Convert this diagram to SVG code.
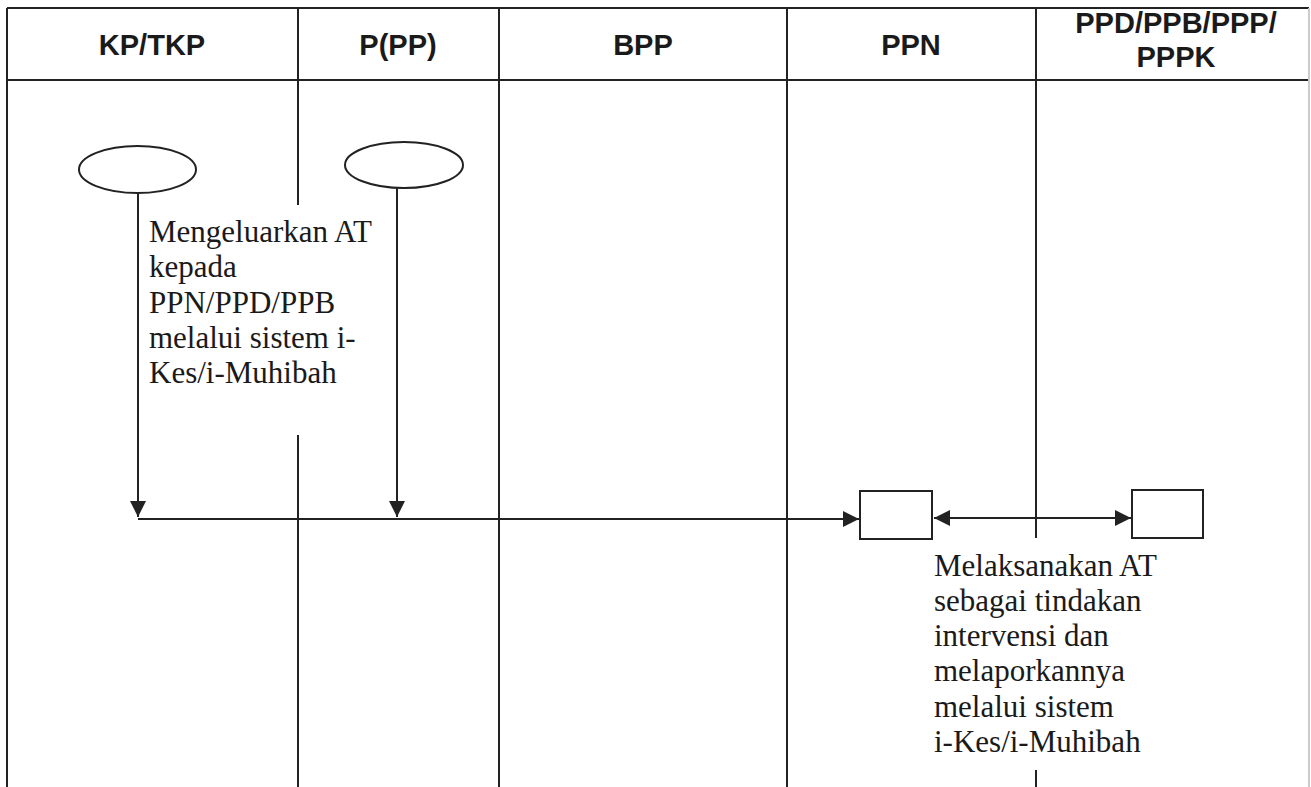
<svg xmlns="http://www.w3.org/2000/svg" width="1311" height="787" viewBox="0 0 1311 787">
<style>
.ln{stroke:#222;stroke-width:2;fill:none}
.sh{stroke:#222;stroke-width:2;fill:#fff}
.hd{font-family:"Liberation Sans",Arial,sans-serif;font-weight:bold;font-size:29px;fill:#1a1a1a;text-anchor:middle}
.tx{font-family:"Liberation Serif","Times New Roman",serif;font-size:31px;fill:#1a1a1a}
</style>
<defs>
<marker id="ah" viewBox="0 0 16 16" refX="16" refY="8" markerWidth="16" markerHeight="16" markerUnits="userSpaceOnUse" orient="auto-start-reverse">
<path d="M0,0 L16,8 L0,16 Z" fill="#222"/>
</marker>
</defs>
<rect width="1311" height="787" fill="#fff"/>
<g id="frame">
<line class="ln" x1="7" y1="8" x2="1309" y2="8"/>
<line class="ln" x1="7" y1="80" x2="1309" y2="80"/>
<line class="ln" x1="7" y1="8" x2="7" y2="787"/>
<line class="ln" x1="1309" y1="8" x2="1309" y2="787" style="stroke:#ccc"/>
<line class="ln" x1="298" y1="8" x2="298" y2="205"/>
<line class="ln" x1="298" y1="435" x2="298" y2="787"/>
<line class="ln" x1="499" y1="8" x2="499" y2="787"/>
<line class="ln" x1="787" y1="8" x2="787" y2="787"/>
<line class="ln" x1="1036" y1="8" x2="1036" y2="538"/>
<line class="ln" x1="1036" y1="770" x2="1036" y2="787"/>
</g>
<g id="headers">
<text class="hd" x="152" y="55">KP/TKP</text>
<text class="hd" x="398" y="55">P(PP)</text>
<text class="hd" x="643" y="55">BPP</text>
<text class="hd" x="911" y="55">PPN</text>
<text class="hd" x="1176" y="33">PPD/PPB/PPP/</text>
<text class="hd" x="1176" y="67">PPPK</text>
</g>
<g id="start1"><ellipse class="sh" cx="137.5" cy="169.5" rx="58.5" ry="23.5"/></g>
<g id="start2"><ellipse class="sh" cx="404" cy="165" rx="59" ry="23"/></g>
<g id="box-ppn"><rect class="sh" x="860" y="491" width="72" height="48"/></g>
<g id="box-ppd"><rect class="sh" x="1132" y="490" width="71" height="48"/></g>
<g id="connectors">
<line class="ln" x1="138" y1="193" x2="138" y2="517" marker-end="url(#ah)"/>
<line class="ln" x1="397" y1="188" x2="397" y2="517" marker-end="url(#ah)"/>
<line class="ln" x1="138" y1="519" x2="859" y2="519" marker-end="url(#ah)"/>
<line class="ln" x1="934" y1="518" x2="1131" y2="518" marker-start="url(#ah)" marker-end="url(#ah)"/>
</g>
<g id="label1">
<text class="tx" x="149" y="242">Mengeluarkan AT</text>
<text class="tx" x="149" y="277">kepada</text>
<text class="tx" x="149" y="313">PPN/PPD/PPB</text>
<text class="tx" x="149" y="348">melalui sistem i-</text>
<text class="tx" x="149" y="383">Kes/i-Muhibah</text>
</g>
<g id="label2">
<text class="tx" x="934" y="576">Melaksanakan AT</text>
<text class="tx" x="934" y="611">sebagai tindakan</text>
<text class="tx" x="934" y="646">intervensi dan</text>
<text class="tx" x="934" y="681">melaporkannya</text>
<text class="tx" x="934" y="717">melalui sistem</text>
<text class="tx" x="934" y="752">i-Kes/i-Muhibah</text>
</g>
</svg>
